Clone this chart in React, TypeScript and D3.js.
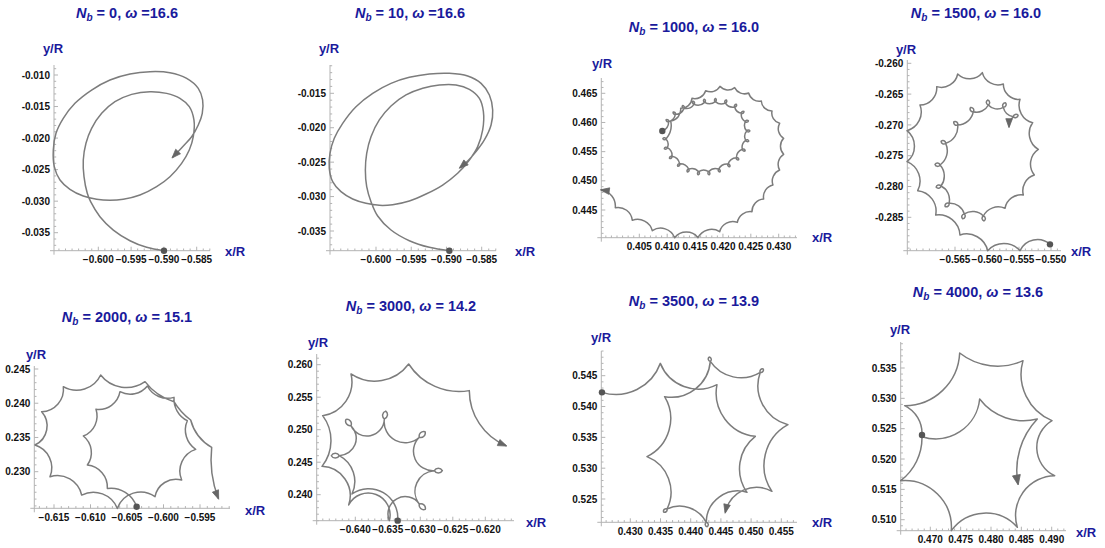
import React from "react";
import * as d3 from "d3";

// ---------- data ----------
const nbValues = [0, 10, 1000, 1500, 2000, 3000, 3500, 4000];
const omegaLabels = ["=16.6", "=16.6", "= 16.0", "= 16.0", "= 15.1", "= 14.2", "= 13.9", "= 13.6"];

const xTicks1 = [-0.6, -0.595, -0.59, -0.585];
const yTicks1 = [-0.01, -0.015, -0.02, -0.025, -0.03, -0.035];
const xTicks2 = [-0.6, -0.595, -0.59, -0.585];
const yTicks2 = [-0.015, -0.02, -0.025, -0.03, -0.035];
const xTicks3 = [0.405, 0.41, 0.415, 0.42, 0.425, 0.43];
const yTicks3 = [0.465, 0.46, 0.455, 0.45, 0.445];
const xTicks4 = [-0.565, -0.56, -0.555, -0.55];
const yTicks4 = [-0.26, -0.265, -0.27, -0.275, -0.28, -0.285];
const xTicks5 = [-0.615, -0.61, -0.605, -0.6, -0.595];
const yTicks5 = [0.245, 0.24, 0.235, 0.23];
const xTicks6 = [-0.64, -0.635, -0.63, -0.625, -0.62];
const yTicks6 = [0.26, 0.255, 0.25, 0.245, 0.24];
const xTicks7 = [0.43, 0.435, 0.44, 0.445, 0.45, 0.455];
const yTicks7 = [0.545, 0.54, 0.535, 0.53, 0.525];
const xTicks8 = [0.47, 0.475, 0.48, 0.485, 0.49];
const yTicks8 = [0.535, 0.53, 0.525, 0.52, 0.515, 0.51];

// smooth trajectories [x, y]
const traj1 = [
  [-0.58999, -0.03785], [-0.59263, -0.03732], [-0.59517, -0.03627], [-0.59771, -0.03458],
  [-0.59975, -0.03246], [-0.60117, -0.03008], [-0.60168, -0.02876], [-0.60218, -0.02612],
  [-0.60229, -0.02348], [-0.60188, -0.02083], [-0.60102, -0.01846], [-0.59949, -0.01608],
  [-0.59746, -0.01423], [-0.59492, -0.01307], [-0.59212, -0.01264], [-0.58958, -0.01291],
  [-0.58755, -0.0137], [-0.58613, -0.01502], [-0.58542, -0.01713], [-0.58552, -0.01978],
  [-0.58613, -0.02189], [-0.5873, -0.02401], [-0.58908, -0.02612], [-0.59111, -0.02771],
  [-0.59365, -0.02903], [-0.59619, -0.02971], [-0.59822, -0.02987], [-0.60025, -0.02971],
  [-0.60229, -0.02919], [-0.60432, -0.02813], [-0.60584, -0.02665], [-0.60671, -0.02453],
  [-0.60686, -0.02189], [-0.60645, -0.01925], [-0.60534, -0.01687], [-0.60356, -0.01449],
  [-0.60102, -0.01238], [-0.59822, -0.01079], [-0.59517, -0.00984], [-0.59212, -0.00947],
  [-0.58908, -0.00963], [-0.58653, -0.01053], [-0.58476, -0.01211], [-0.5841, -0.01396],
  [-0.58415, -0.01608], [-0.58476, -0.01793], [-0.58577, -0.01978], [-0.58714, -0.02136],
  [-0.58867, -0.02305],
];
const traj2 = [
  [-0.58959, -0.03786], [-0.59243, -0.03737], [-0.59527, -0.03641], [-0.59787, -0.03486],
  [-0.59976, -0.03282], [-0.60071, -0.03074], [-0.60132, -0.02856], [-0.60151, -0.02614],
  [-0.60132, -0.02372], [-0.60071, -0.0213], [-0.59953, -0.01887], [-0.59787, -0.01684],
  [-0.59574, -0.01524], [-0.59337, -0.01427], [-0.59101, -0.01379], [-0.58864, -0.01379],
  [-0.58675, -0.01442], [-0.58533, -0.01573], [-0.58476, -0.01766], [-0.58486, -0.02033],
  [-0.58557, -0.02275], [-0.58675, -0.02469], [-0.58841, -0.02662], [-0.59054, -0.02832],
  [-0.5929, -0.02963], [-0.59527, -0.03064], [-0.59763, -0.03118], [-0.59953, -0.03127],
  [-0.60142, -0.03098], [-0.60331, -0.03035], [-0.60497, -0.02929], [-0.60615, -0.02783],
  [-0.60663, -0.0259], [-0.60653, -0.02372], [-0.60592, -0.02154], [-0.60473, -0.01936],
  [-0.60284, -0.01694], [-0.60047, -0.015], [-0.59787, -0.01355], [-0.59527, -0.01268],
  [-0.59243, -0.01219], [-0.58959, -0.01209], [-0.58699, -0.01248], [-0.58509, -0.01355],
  [-0.58391, -0.01524], [-0.58344, -0.01742], [-0.58367, -0.0196], [-0.58462, -0.02178],
  [-0.5858, -0.02347], [-0.58699, -0.02483], [-0.58808, -0.0258],
];

// cusp trajectories: [x, y, bulge of arriving arc, loop at cusp]
const traj3 = [
  [0.40913, 0.45854, 0, 0],
  [0.41027, 0.46014, 0.15, 1], [0.41146, 0.46139, 0.15, 1], [0.41302, 0.46242, 0.15, 1],
  [0.41481, 0.46311, 0.15, 1], [0.41672, 0.46345, 0.15, 1], [0.41864, 0.46357, 0.15, 1],
  [0.42043, 0.46334, 0.15, 1], [0.4221, 0.46265, 0.15, 1], [0.4233, 0.46157, 0.15, 1],
  [0.42402, 0.46014, 0.15, 1], [0.42426, 0.45854, 0.15, 1], [0.42408, 0.45694, 0.15, 1],
  [0.42348, 0.4554, 0.15, 1], [0.4224, 0.45397, 0.15, 1], [0.42091, 0.45288, 0.15, 1],
  [0.41923, 0.45202, 0.15, 1], [0.41744, 0.45157, 0.15, 1], [0.41565, 0.45157, 0.15, 1],
  [0.41386, 0.45202, 0.15, 1], [0.41224, 0.45294, 0.15, 1], [0.41087, 0.4542, 0.15, 1],
  [0.41003, 0.45568, 0.15, 1], [0.40979, 0.45717, 0.15, 1],
  [0.41063, 0.46025, 0.12, 0], [0.41242, 0.46242, 0.2, 0], [0.41445, 0.46414, 0.2, 0],
  [0.4169, 0.46545, 0.2, 0], [0.41947, 0.46619, 0.2, 0], [0.4221, 0.46597, 0.2, 0],
  [0.42461, 0.46505, 0.2, 0], [0.42688, 0.46368, 0.2, 0], [0.4288, 0.46197, 0.2, 0],
  [0.43017, 0.45985, 0.2, 0], [0.43089, 0.45728, 0.2, 0], [0.43089, 0.45454, 0.2, 0],
  [0.43017, 0.45185, 0.2, 0], [0.42897, 0.44928, 0.2, 0], [0.4273, 0.44688, 0.2, 0],
  [0.42521, 0.44471, 0.2, 0], [0.42258, 0.44288, 0.2, 0], [0.41941, 0.44128, 0.22, 0],
  [0.41553, 0.44025, 0.22, 0], [0.41134, 0.44025, 0.24, 0], [0.40734, 0.44145, 0.24, 0],
  [0.40375, 0.44323, 0.22, 0], [0.4007, 0.4454, 0.22, 0], [0.39819, 0.44843, 0.2, 0],
];
const traj4 = [
  [-0.55016, -0.28939, 0, 0],
  [-0.55484, -0.29042, 0.25, 0], [-0.5599, -0.29042, 0.22, 0], [-0.56422, -0.28787, 0.22, 0],
  [-0.56802, -0.28463, 0.22, 0], [-0.57083, -0.28068, 0.22, 0], [-0.5725, -0.27597, 0.22, 0],
  [-0.5725, -0.27094, 0.24, 0], [-0.57047, -0.26677, 0.22, 0], [-0.56786, -0.26379, 0.22, 0],
  [-0.56458, -0.26174, 0.22, 0], [-0.56073, -0.26152, 0.22, 0], [-0.55745, -0.26336, 0.22, 0],
  [-0.55484, -0.26585, 0.22, 0], [-0.55286, -0.26964, 0.22, 0], [-0.55198, -0.27397, 0.22, 0],
  [-0.5526, -0.27813, 0.22, 0], [-0.55432, -0.28138, 0.2, 0], [-0.55719, -0.28354, 0.2, 0],
  [-0.56057, -0.28479, 0.2, 1], [-0.56354, -0.28446, 0.18, 1], [-0.56594, -0.28273, 0.18, 1],
  [-0.56719, -0.27992, 0.18, 1], [-0.56734, -0.27651, 0.18, 1], [-0.56646, -0.27299, 0.18, 1],
  [-0.56458, -0.27002, 0.18, 1], [-0.56214, -0.26785, 0.18, 1], [-0.55979, -0.26677, 0.18, 1],
  [-0.55745, -0.26715, 0.18, 1], [-0.55589, -0.26867, 0.15, 1], [-0.55656, -0.27029, 0.1, 0],
];
const traj5 = [
  [-0.60368, 0.22489, 0, 0],
  [-0.60769, 0.22756, 0.18, 0], [-0.61043, 0.23097, 0.2, 0], [-0.61098, 0.23521, 0.2, 0],
  [-0.60925, 0.23911, 0.2, 0], [-0.60596, 0.24169, 0.2, 0], [-0.60221, 0.24252, 0.18, 0],
  [-0.59856, 0.24086, 0.18, 0], [-0.59674, 0.23745, 0.15, 0], [-0.59559, 0.23326, 0.18, 0],
  [-0.59751, 0.22878, 0.22, 0], [-0.60116, 0.22635, 0.22, 0], [-0.60632, 0.22464, 0.25, 0],
  [-0.61121, 0.22659, 0.22, 0], [-0.61555, 0.22927, 0.22, 0], [-0.6176, 0.2339, 0.22, 0],
  [-0.61669, 0.23877, 0.25, 0], [-0.61372, 0.24242, 0.22, 0], [-0.60861, 0.24412, 0.22, 0],
  [-0.60253, 0.24315, 0.2, 0], [-0.59856, 0.24023, 0.08, 0], [-0.59628, 0.23755, 0.05, 0],
  [-0.5934, 0.23355, 0.1, 0], [-0.59249, 0.2261, 0.06, 0],
];
const traj6 = [
  [-0.63348, 0.23601, 0, 0],
  [-0.64051, 0.24011, 0.32, 0], [-0.64246, 0.24601, 0.2, 1], [-0.64066, 0.25062, 0.33, 1],
  [-0.63553, 0.25165, 0.4, 1], [-0.63015, 0.24883, 0.35, 1], [-0.62784, 0.2437, 0.35, 1],
  [-0.63015, 0.23857, 0.3, 1], [-0.63476, 0.23601, 0.45, 0], [-0.64102, 0.23842, 0.45, 0],
  [-0.64512, 0.24436, 0.25, 0], [-0.64502, 0.25216, 0.17, 0], [-0.64066, 0.25857, 0.22, 0],
  [-0.63179, 0.26011, 0.2, 0], [-0.62246, 0.25601, 0.15, 0], [-0.61682, 0.24754, 0.15, 0],
];
const traj7 = [
  [0.42531, 0.5423, 0, 0],
  [0.43497, 0.547, 0.2, 0], [0.44435, 0.54354, 0.22, 0], [0.4507, 0.53516, 0.22, 0],
  [0.44932, 0.52608, 0.2, 0], [0.44258, 0.52122, 0.25, 1], [0.43607, 0.52338, 0.2, 1],
  [0.43276, 0.53187, 0.22, 0], [0.43568, 0.54159, 0.22, 0], [0.44325, 0.54732, 0.22, 1],
  [0.45152, 0.54554, 0.2, 1], [0.4561, 0.53705, 0.22, 0], [0.45345, 0.52624, 0.22, 0],
  [0.44573, 0.52284, 0.25, 0],
];
const traj8 = [
  [0.46863, 0.52396, 0, 0],
  [0.46578, 0.52879, 0.15, 0], [0.47484, 0.53747, 0.2, 0], [0.48527, 0.53621, 0.14, 0],
  [0.49005, 0.52632, 0.19, 0], [0.49049, 0.51725, 0.3, 0], [0.48434, 0.50874, 0.25, 0],
  [0.47346, 0.50819, 0.24, 0], [0.46512, 0.51643, 0.23, 0], [0.46863, 0.52368, 0.12, 0],
  [0.47813, 0.52989, 0.24, 0], [0.48763, 0.52659, 0.15, 0], [0.48445, 0.51588, 0.12, 0],
];

const X_TICKS = [xTicks1, xTicks2, xTicks3, xTicks4, xTicks5, xTicks6, xTicks7, xTicks8];
const Y_TICKS = [yTicks1, yTicks2, yTicks3, yTicks4, yTicks5, yTicks6, yTicks7, yTicks8];
const TRAJ: number[][][] = [traj1, traj2, traj3, traj4, traj5, traj6, traj7, traj8];

// ---------- layout / style ----------
const LAYOUT = [
  { title: [127, 18], xCal: [98.3, 196.7], yCal: [75, 232.7], yAxisX: 54, xAxisY: 250.7, xEnd: 210, yTop: 65, yLab: [53, 52.5], xLab: [225, 255.5], loopLen: 0, loopB: 0 },
  { title: [410, 18], xCal: [376, 481.7], yCal: [93.3, 231], yAxisX: 330, xAxisY: 250.7, xEnd: 496, yTop: 65, yLab: [329, 52.5], xLab: [515, 255.5], loopLen: 0, loopB: 0 },
  { title: [694, 32], xCal: [639.3, 778.7], yCal: [93.3, 210], yAxisX: 601.3, xAxisY: 237.7, xEnd: 797, yTop: 78, yLab: [602, 67.5], xLab: [812, 242], loopLen: 3.2, loopB: 0.3 },
  { title: [976, 18], xCal: [955, 1051], yCal: [63.3, 217.3], yAxisX: 907.3, xAxisY: 250.7, xEnd: 1061, yTop: 60, yLab: [906, 53.5], xLab: [1071, 255.5], loopLen: 5, loopB: 0.33 },
  { title: [127, 322], xCal: [54, 200], yCal: [369, 471.7], yAxisX: 34.3, xAxisY: 508.3, xEnd: 230, yTop: 366, yLab: [36, 358.5], xLab: [245, 514.5], loopLen: 0, loopB: 0 },
  { title: [411, 311], xCal: [355.3, 485.3], yCal: [364.7, 494.7], yAxisX: 316.7, xAxisY: 520.7, xEnd: 514, yTop: 354, yLab: [318, 346.5], xLab: [526, 527], loopLen: 8, loopB: 0.3 },
  { title: [694, 306], xCal: [630.3, 781.3], yCal: [375.7, 499], yAxisX: 601.3, xAxisY: 522.3, xEnd: 797, yTop: 351, yLab: [601, 341.5], xLab: [812, 527], loopLen: 4.5, loopB: 0.33 },
  { title: [978, 297], xCal: [930.3, 1051.7], yCal: [368, 519.7], yAxisX: 900.7, xAxisY: 530.7, xEnd: 1066, yTop: 342, yLab: [900, 333.5], xLab: [1076, 537], loopLen: 0, loopB: 0 },
];

const FONT = "'Liberation Sans', Arial, Helvetica, sans-serif";
const C_LINE = "#7c7c7c";
const C_DOT = "#555555";
const C_AXIS = "#b3b3b3";
const C_TITLE = "#1a1a9c";

type P = [number, number];

function arcSeg(a: P, b: P, bulge: number) {
  const dx = b[0] - a[0], dy = b[1] - a[1];
  const c = Math.hypot(dx, dy);
  const s = Math.abs(bulge) * c;
  if (s < 0.05 || c < 0.01) return `L${b[0].toFixed(2)},${b[1].toFixed(2)}`;
  const r = (c * c / 4 + s * s) / (2 * s);
  const large = s > c / 2 ? 1 : 0;
  const sweep = bulge > 0 ? 0 : 1;
  return `A${r.toFixed(3)},${r.toFixed(3)} 0 ${large} ${sweep} ${b[0].toFixed(2)},${b[1].toFixed(2)}`;
}

function endTangent(a: P, b: P, bulge: number): P {
  const dx = b[0] - a[0], dy = b[1] - a[1];
  const c = Math.hypot(dx, dy) || 1;
  const ux = dx / c, uy = dy / c;
  const th = 2 * Math.atan(2 * Math.abs(bulge));
  const ang = -Math.sign(bulge) * th;
  return [ux * Math.cos(ang) - uy * Math.sin(ang), ux * Math.sin(ang) + uy * Math.cos(ang)];
}

function arrowHead(tip: P, t: P, len = 8, half = 3.3) {
  const nx = -t[1], ny = t[0];
  const tx = tip[0] + t[0] * 1, ty = tip[1] + t[1] * 1;
  const bx = tip[0] - t[0] * len, by = tip[1] - t[1] * len;
  return `M${tx},${ty}L${bx + nx * half},${by + ny * half}L${bx - nx * half},${by - ny * half}Z`;
}

const fmtY = (v: number) => v.toFixed(3);
const fmtX = (v: number) => (v < 0 ? "\u2212" + Math.abs(v).toFixed(3) : v.toFixed(3));

function Panel({ i }: { i: number }) {
  const L = LAYOUT[i];
  const xt = X_TICKS[i], yt = Y_TICKS[i];
  const x = d3.scaleLinear().domain([xt[0], xt[xt.length - 1]]).range(L.xCal);
  const y = d3.scaleLinear().domain([yt[0], yt[yt.length - 1]]).range(L.yCal);
  const data = TRAJ[i];

  const xv0 = x.invert(L.yAxisX), xv1 = x.invert(L.xEnd);
  const yv0 = y.invert(L.xAxisY), yv1 = y.invert(L.yTop);
  const xMinor: number[] = [];
  for (let k = Math.ceil(Math.min(xv0, xv1) * 1000 - 1e-6); k <= Math.floor(Math.max(xv0, xv1) * 1000 + 1e-6); k++) xMinor.push(k / 1000);
  const yMinor: number[] = [];
  for (let k = Math.ceil(Math.min(yv0, yv1) * 1000 - 1e-6); k <= Math.floor(Math.max(yv0, yv1) * 1000 + 1e-6); k++) yMinor.push(k / 1000);

  let pathD = "";
  let arrow = "";
  const pts: P[] = data.map((d) => [x(d[0]), y(d[1])]);
  if (i < 2) {
    const line = d3.line<P>().curve(d3.curveCatmullRom.alpha(0.5));
    pathD = line(pts) || "";
    const a = pts[pts.length - 2], b = pts[pts.length - 1];
    const c = Math.hypot(b[0] - a[0], b[1] - a[1]);
    arrow = arrowHead(b, [(b[0] - a[0]) / c, (b[1] - a[1]) / c]);
  } else {
    let d = `M${pts[0][0].toFixed(2)},${pts[0][1].toFixed(2)}`;
    for (let k = 1; k < pts.length; k++) {
      const bulge = data[k][2];
      d += arcSeg(pts[k - 1], pts[k], bulge);
      if (data[k][3] && k < pts.length - 1 && L.loopLen > 0) {
        const pv = pts[k - 1], nx = pts[k + 1], q = pts[k];
        const dx = nx[0] - pv[0], dy = nx[1] - pv[1];
        const c = Math.hypot(dx, dy) || 1;
        const sg = Math.sign(bulge) || 1;
        const ox = (dy / c) * sg, oy = (-dx / c) * sg;
        const tip: P = [q[0] + ox * L.loopLen, q[1] + oy * L.loopLen];
        d += arcSeg(q, tip, L.loopB) + arcSeg(tip, q, L.loopB);
      }
    }
    pathD = d;
    const n = pts.length;
    const t = endTangent(pts[n - 2], pts[n - 1], data[n - 1][2]);
    arrow = arrowHead(pts[n - 1], t, i === 7 ? 9 : 8, i === 7 ? 4 : 3.3);
  }

  const isMajorX = (v: number) => xt.some((t) => Math.abs(t - v) < 1e-7);
  const isMajorY = (v: number) => yt.some((t) => Math.abs(t - v) < 1e-7);

  return (
    <g>
      <text x={L.title[0]} y={L.title[1]} textAnchor="middle" fontFamily={FONT} fontWeight="bold" fontSize={14.5} fill={C_TITLE} style={{ whiteSpace: "pre" }}>
        <tspan fontStyle="italic">N</tspan>
        <tspan fontStyle="italic" fontSize={10} dy={3}>b</tspan>
        <tspan dy={-3}>{` = ${nbValues[i]}, `}</tspan>
        <tspan fontStyle="italic">ω</tspan>
        <tspan>{` ${omegaLabels[i]}`}</tspan>
      </text>
      <line x1={L.yAxisX - 4} x2={L.xEnd} y1={L.xAxisY} y2={L.xAxisY} stroke={C_AXIS} strokeWidth={1} />
      <line x1={L.yAxisX} x2={L.yAxisX} y1={L.yTop} y2={L.xAxisY + 4} stroke={C_AXIS} strokeWidth={1} />
      {xMinor.map((v) => (
        <line key={"xm" + v} x1={x(v)} x2={x(v)} y1={L.xAxisY} y2={L.xAxisY - (isMajorX(v) ? 4 : 2.2)} stroke={C_AXIS} strokeWidth={1} />
      ))}
      {yMinor.map((v) => (
        <line key={"ym" + v} x1={L.yAxisX} x2={L.yAxisX + (isMajorY(v) ? 4 : 2.2)} y1={y(v)} y2={y(v)} stroke={C_AXIS} strokeWidth={1} />
      ))}
      {xt.map((v) => (
        <text key={"xt" + v} x={x(v)} y={L.xAxisY + 12.5} textAnchor="middle" fontFamily={FONT} fontWeight="bold" fontSize={10} fill="#111">
          {fmtX(v)}
        </text>
      ))}
      {yt.map((v) => (
        <text key={"yt" + v} x={L.yAxisX - 4} y={y(v) + 3.6} textAnchor="end" fontFamily={FONT} fontWeight="bold" fontSize={10} fill="#111">
          {fmtY(v)}
        </text>
      ))}
      <text x={L.yLab[0]} y={L.yLab[1]} textAnchor="middle" fontFamily={FONT} fontWeight="bold" fontSize={13} fill={C_TITLE}>y/R</text>
      <text x={L.xLab[0]} y={L.xLab[1]} textAnchor="start" fontFamily={FONT} fontWeight="bold" fontSize={13} fill={C_TITLE}>x/R</text>
      <path d={pathD} fill="none" stroke={C_LINE} strokeWidth={1.5} strokeLinejoin="round" />
      <path d={arrow} fill="#666" stroke="#666" strokeWidth={0.8} strokeLinejoin="round" />
      <circle cx={pts[0][0]} cy={pts[0][1]} r={3.2} fill={C_DOT} />
    </g>
  );
}

export default function App() {
  return (
    <svg width={1105} height={548} viewBox="0 0 1105 548" style={{ position: "absolute", left: 0, top: 0, background: "#fff" }}>
      <rect width={1105} height={548} fill="#fff" />
      {LAYOUT.map((_, i) => (
        <Panel key={i} i={i} />
      ))}
    </svg>
  );
}
